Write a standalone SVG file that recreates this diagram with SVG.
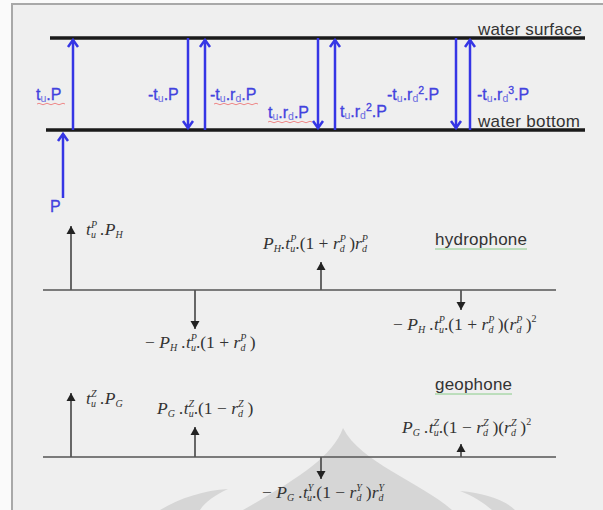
<svg xmlns="http://www.w3.org/2000/svg" width="603" height="510" viewBox="0 0 603 510">
<style>
.b{font-family:"Liberation Sans",Arial,sans-serif;font-size:16px;fill:#4242de;stroke:#4242de;stroke-width:0.3}
.bs{font-size:10.5px;fill:#6a6ae0;stroke:none}
.bp{font-size:10.5px}
.lbl{font-family:"Liberation Sans",Arial,sans-serif;font-size:17px;fill:#333}
.m{font-family:"Liberation Serif","Times New Roman",serif;font-style:italic;font-size:17.5px;fill:#333}
.s{font-size:10px}
.n{font-style:normal}
.sq{font-style:normal;font-size:10px}
.wl{stroke:#1a1a1a;stroke-width:3.5}
.gl{stroke:#555;stroke-width:1.5}
.ba{stroke:#3535e5;stroke-width:2.5;fill:none;marker-end:url(#bh)}
.ga{stroke:#444;stroke-width:1.6;marker-end:url(#gh)}
.red{stroke:#e88;stroke-width:1;fill:none}
.grn{stroke:#8c8;stroke-width:1;fill:none}
.wm{fill:#d6d6d6}
</style>
<defs>
<marker id="bh" viewBox="-10 -10 20 20" markerWidth="20" markerHeight="20" refX="0" refY="0" orient="auto" markerUnits="userSpaceOnUse">
<path d="M-7,-5 L0,0 L-7,5" fill="none" stroke="#3535e5" stroke-width="2.5"/>
</marker>
<marker id="gh" viewBox="-10 -10 20 20" markerWidth="20" markerHeight="20" refX="0" refY="0" orient="auto" markerUnits="userSpaceOnUse">
<path d="M-8,-4.5 L0,0 L-8,4.5 Z" fill="#222"/>
</marker>
</defs>
<rect x="0" y="0" width="603" height="510" fill="#fafafa"/>
<rect x="12" y="4" width="600" height="520" fill="#efefef" stroke="#a8a8a8" stroke-width="2"/>
<g id="watermark">
<path class="wm" d="M343,428 C332,458 295,480 243,510 L452,510 C420,482 360,462 343,428 Z"/>
<path class="wm" d="M160,510 C180,498 205,490 228,489 C215,495 205,502 200,510 Z"/>
<path class="wm" d="M460,491 C485,493 505,500 515,510 L492,510 C484,503 473,496 460,491 Z"/>
</g>
<g id="water-surface">
<line class="wl" x1="50" y1="38" x2="585" y2="38"/>
<text class="lbl" x="478" y="35" textLength="104">water surface</text>
</g>
<g id="water-bottom">
<line class="wl" x1="46" y1="130" x2="585" y2="130"/>
<text class="lbl" x="478" y="127" textLength="102">water bottom</text>
</g>
<g id="connectors">
<line class="ba" x1="63" y1="198" x2="63" y2="134"/>
<line class="ba" x1="73" y1="130" x2="73" y2="40"/>
<line class="ba" x1="188" y1="38" x2="188" y2="128"/>
<line class="ba" x1="205" y1="130" x2="205" y2="40"/>
<line class="ba" x1="318" y1="38" x2="318" y2="128"/>
<line class="ba" x1="335" y1="130" x2="335" y2="40"/>
<line class="ba" x1="456" y1="38" x2="456" y2="128"/>
<line class="ba" x1="470" y1="130" x2="470" y2="40"/>
<line class="ga" x1="71" y1="290" x2="71" y2="226"/>
<line class="ga" x1="321" y1="290" x2="321" y2="262"/>
<line class="ga" x1="195" y1="290" x2="195" y2="329"/>
<line class="ga" x1="461" y1="290" x2="461" y2="310"/>
<line class="ga" x1="71" y1="457" x2="71" y2="393"/>
<line class="ga" x1="195" y1="457" x2="195" y2="427"/>
<line class="ga" x1="461" y1="457" x2="461" y2="444"/>
<line class="ga" x1="321" y1="457" x2="321" y2="479"/>
</g>
<g id="source">
<text class="b" x="50" y="212" font-size="16">P</text>
</g>
<g id="blue-labels">
<text class="b" x="36" y="100">t<tspan class="bs" dy="2">u</tspan><tspan dy="-2">.P</tspan></text>
<path class="red" d="M37,104 q2,-1.5 4,0 t4,0 t4,0 t4,0 t4,0 t4,0 t4,0"/>
<text class="b" x="148" y="100">-t<tspan class="bs" dy="2">u</tspan><tspan dy="-2">.P</tspan></text>
<text class="b" x="210" y="100">-t<tspan class="bs" dy="2">u</tspan><tspan dy="-2">.r</tspan><tspan class="bs" dy="2">d</tspan><tspan dy="-2">.P</tspan></text>
<path class="red" d="M214,104 q2,-1.5 4,0 t4,0 t4,0 t4,0 t4,0 t4,0 t4,0 t4,0 t4,0 t4,0 t4,0"/>
<text class="b" x="268" y="118">t<tspan class="bs" dy="2">u</tspan><tspan dy="-2">.r</tspan><tspan class="bs" dy="2">d</tspan><tspan dy="-2">.P</tspan></text>
<path class="red" d="M268,122 q2,-1.5 4,0 t4,0 t4,0 t4,0 t4,0 t4,0 t4,0 t4,0 t4,0 t4,0 t4,0"/>
<text class="b" x="340" y="117">t<tspan class="bs" dy="2">u</tspan><tspan dy="-2">.r</tspan><tspan class="bs" dy="2">d</tspan><tspan class="bp" dy="-8">2</tspan><tspan dy="6">.P</tspan></text>
<text class="b" x="387" y="100">-t<tspan class="bs" dy="2">u</tspan><tspan dy="-2">.r</tspan><tspan class="bs" dy="2">d</tspan><tspan class="bp" dy="-8">2</tspan><tspan dy="6">.P</tspan></text>
<text class="b" x="477" y="100">-t<tspan class="bs" dy="2">u</tspan><tspan dy="-2">.r</tspan><tspan class="bs" dy="2">d</tspan><tspan class="bp" dy="-8">3</tspan><tspan dy="6">.P</tspan></text>
</g>
<g id="hydrophone">
<line class="gl" x1="43" y1="290" x2="556" y2="290"/>
<text class="lbl" x="435" y="245" textLength="92">hydrophone</text>
<path class="grn" d="M435,249 L527,249"/>
<text class="m" x="86" y="235">t<tspan class="s" dy="-7">P</tspan><tspan class="s" dx="-6" dy="10">u</tspan><tspan dy="-3"> .P</tspan><tspan class="s" dy="3">H</tspan></text>
<text class="m" x="263" y="249">P<tspan class="s" dy="3">H</tspan><tspan dy="-3">.t</tspan><tspan class="s" dy="-7">P</tspan><tspan class="s" dx="-6" dy="10">u</tspan><tspan class="n" dy="-3">.(1 + </tspan>r<tspan class="s" dy="-7">P</tspan><tspan class="s" dx="-6" dy="10">d</tspan><tspan class="n" dy="-3"> )</tspan>r<tspan class="s" dy="-7">P</tspan><tspan class="s" dx="-6" dy="10">d</tspan></text>
<text class="m" x="145" y="348"><tspan class="n">− </tspan>P<tspan class="s" dy="3">H</tspan><tspan dy="-3"> .t</tspan><tspan class="s" dy="-7">P</tspan><tspan class="s" dx="-6" dy="10">u</tspan><tspan class="n" dy="-3">.(1 + </tspan>r<tspan class="s" dy="-7">P</tspan><tspan class="s" dx="-6" dy="10">d</tspan><tspan class="n" dy="-3"> )</tspan></text>
<text class="m" x="393" y="330"><tspan class="n">− </tspan>P<tspan class="s" dy="3">H</tspan><tspan dy="-3"> .t</tspan><tspan class="s" dy="-7">P</tspan><tspan class="s" dx="-6" dy="10">u</tspan><tspan class="n" dy="-3">.(1 + </tspan>r<tspan class="s" dy="-7">P</tspan><tspan class="s" dx="-6" dy="10">d</tspan><tspan class="n" dy="-3"> )(</tspan>r<tspan class="s" dy="-7">P</tspan><tspan class="s" dx="-6" dy="10">d</tspan><tspan class="n" dy="-3"> )</tspan><tspan class="sq" dy="-8">2</tspan></text>
</g>
<g id="geophone">
<line class="gl" x1="43" y1="457" x2="556" y2="457"/>
<text class="lbl" x="435" y="390" textLength="77">geophone</text>
<path class="grn" d="M435,394 L512,394"/>
<text class="m" x="86" y="404">t<tspan class="s" dy="-7">Z</tspan><tspan class="s" dx="-5.5" dy="10">u</tspan><tspan dy="-3"> .P</tspan><tspan class="s" dy="3">G</tspan></text>
<text class="m" x="157" y="414">P<tspan class="s" dy="3">G</tspan><tspan dy="-3"> .t</tspan><tspan class="s" dy="-7">Z</tspan><tspan class="s" dx="-5.5" dy="10">u</tspan><tspan class="n" dy="-3">.(1 − </tspan>r<tspan class="s" dy="-7">Z</tspan><tspan class="s" dx="-5.5" dy="10">d</tspan><tspan class="n" dy="-3"> )</tspan></text>
<text class="m" x="402" y="433">P<tspan class="s" dy="3">G</tspan><tspan dy="-3"> .t</tspan><tspan class="s" dy="-7">Z</tspan><tspan class="s" dx="-5.5" dy="10">u</tspan><tspan class="n" dy="-3">.(1 − </tspan>r<tspan class="s" dy="-7">Z</tspan><tspan class="s" dx="-5.5" dy="10">d</tspan><tspan class="n" dy="-3"> )(</tspan>r<tspan class="s" dy="-7">Z</tspan><tspan class="s" dx="-5.5" dy="10">d</tspan><tspan class="n" dy="-3"> )</tspan><tspan class="sq" dy="-8">2</tspan></text>
<text class="m" x="262" y="498"><tspan class="n">− </tspan>P<tspan class="s" dy="3">G</tspan><tspan dy="-3"> .t</tspan><tspan class="s" dy="-7">Y</tspan><tspan class="s" dx="-5.5" dy="10">u</tspan><tspan class="n" dy="-3">.(1 − </tspan>r<tspan class="s" dy="-7">Y</tspan><tspan class="s" dx="-5.5" dy="10">d</tspan><tspan class="n" dy="-3"> )</tspan>r<tspan class="s" dy="-7">Y</tspan><tspan class="s" dx="-5.5" dy="10">d</tspan></text>
</g>
</svg>
